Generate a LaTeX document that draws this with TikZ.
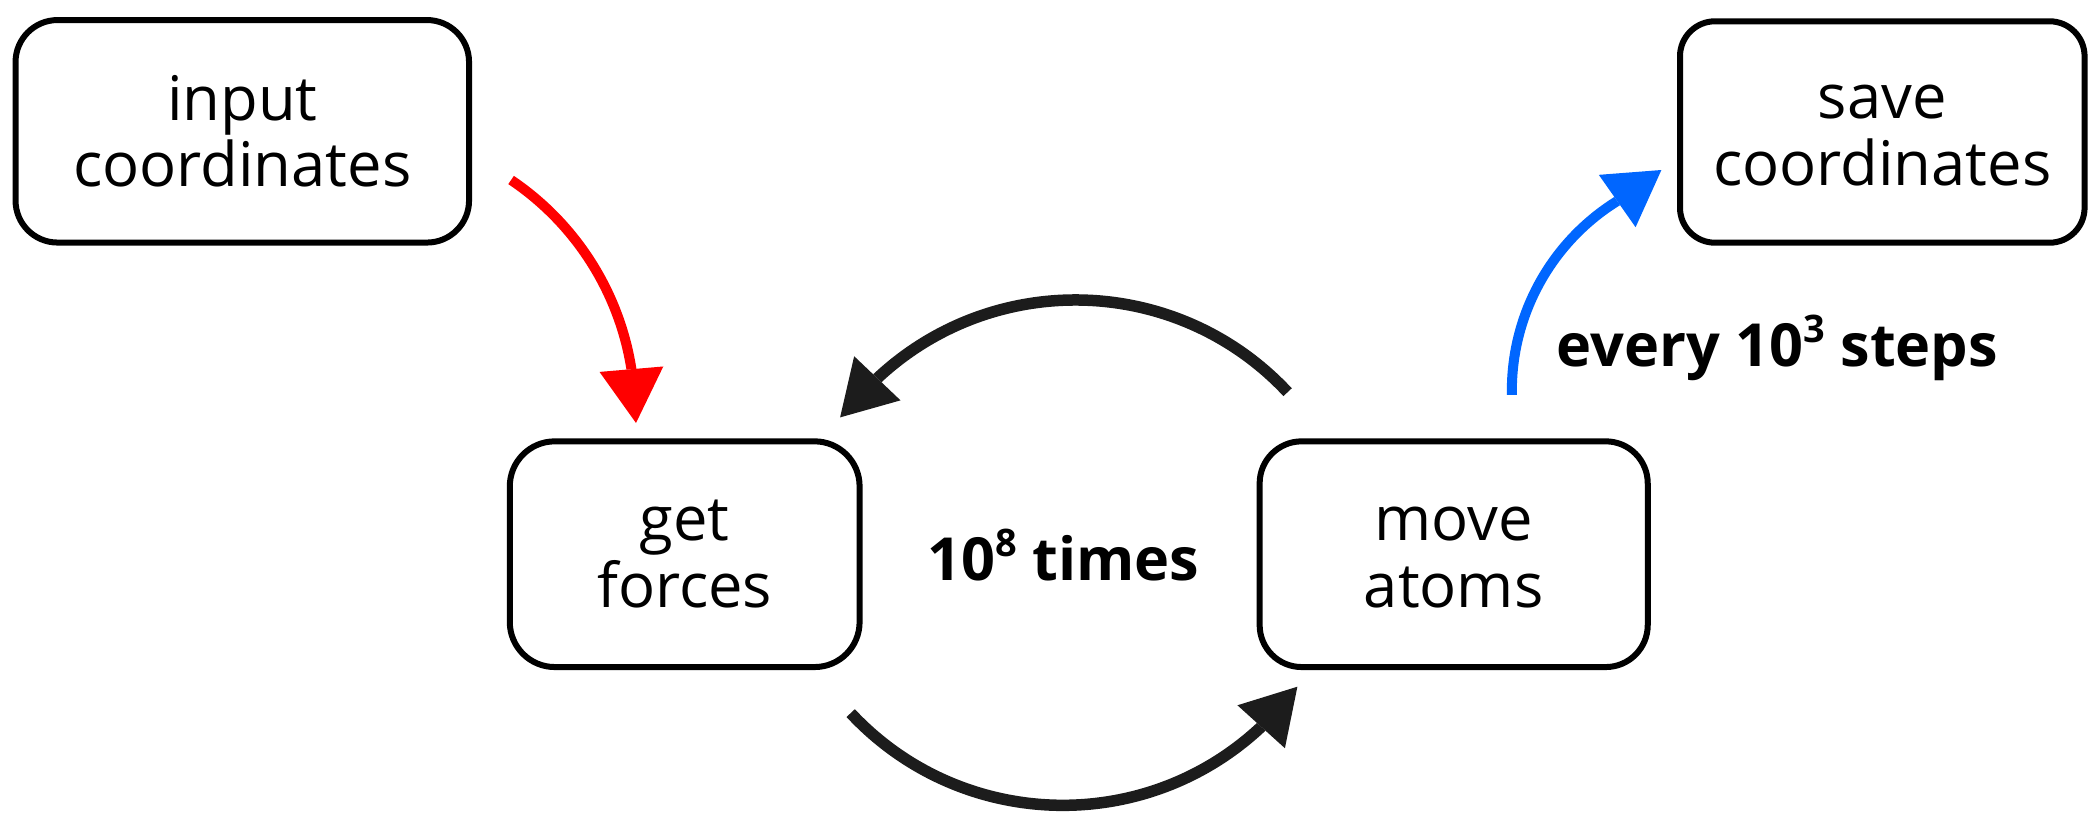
\documentclass[tikz,border=0pt]{standalone}
\usepackage{fontspec}
\setmainfont{Open Sans}
\usetikzlibrary{arrows.meta}
\definecolor{arcblack}{HTML}{1C1C1C}
\definecolor{arrred}{HTML}{FF0000}
\definecolor{arrblue}{HTML}{0066FF}
\newcommand\supnum[1]{\raisebox{0.4em}{\fontsize{10.8}{11}\selectfont #1}}
\begin{document}
\begin{tikzpicture}[
  box/.style={draw=black, line width=0.06cm, rounded corners=0.42cm, align=center,
    font=\fontsize{17.5}{19}\selectfont, inner sep=0pt},
  lbl/.style={font=\fontsize{16.9}{19}\selectfont\bfseries, inner sep=0pt},
  tipstyle/.style={-{Triangle[width=0.64cm,length=0.54cm,line width=0pt]}},
  blkarrow/.style={draw=arcblack, line width=0.115cm, tipstyle},
  redarrow/.style={draw=arrred, line width=0.1cm, tipstyle},
  bluearrow/.style={draw=arrblue, line width=0.1cm, tipstyle}
]
\useasboundingbox (0,0) rectangle (21,8.39);

\node[box, minimum width=4.535cm, minimum height=2.225cm] (input) at (2.423,7.077)
  {\rule{0pt}{0.65em}input\\coordinates};
\node[box, rounded corners=0.35cm, minimum width=4.046cm, minimum height=2.214cm] (save) at (18.823,7.07)
  {\rule{0pt}{0.65em}save\\coordinates};
\node[box, rounded corners=0.45cm, minimum width=3.498cm, minimum height=2.257cm] (get) at (6.847,2.848)
  {\rule{0pt}{0.65em}get\\forces};
\node[box, minimum width=3.881cm, minimum height=2.257cm] (move) at (14.537,2.848)
  {\rule{0pt}{0.65em}move\\atoms};

\node[lbl, anchor=base] (times) at (10.634,2.59) {10\supnum{8} times};
\node[lbl, anchor=base west] (every) at (15.56,4.723) {every 10\supnum{3} steps};

% red arrow: input coordinates -> get forces
\coordinate (rA) at (5.111,6.590);
\coordinate (rT) at (6.36,4.16);
\draw[redarrow] (rA) arc[start angle=56,end angle=9,radius=2.807] -- (rT);

% blue arrow: move atoms -> save coordinates
\coordinate (bA) at (15.119,4.441);
\coordinate (bT) at (16.614,6.69);
\draw[bluearrow] (bA) arc[start angle=181.1,end angle=122,radius=2.232] -- (bT);

% loop arrows
\coordinate (tA) at (12.876,4.468);
\coordinate (tT) at (8.401,4.216);
\draw[blkarrow] (tA) arc[start angle=43,end angle=133,radius=2.9] -- (tT);

\coordinate (mA) at (8.507,1.259);
\coordinate (mT) at (12.974,1.523);
\draw[blkarrow] (mA) arc[start angle=223,end angle=313,radius=2.9] -- (mT);
\end{tikzpicture}
\end{document}
